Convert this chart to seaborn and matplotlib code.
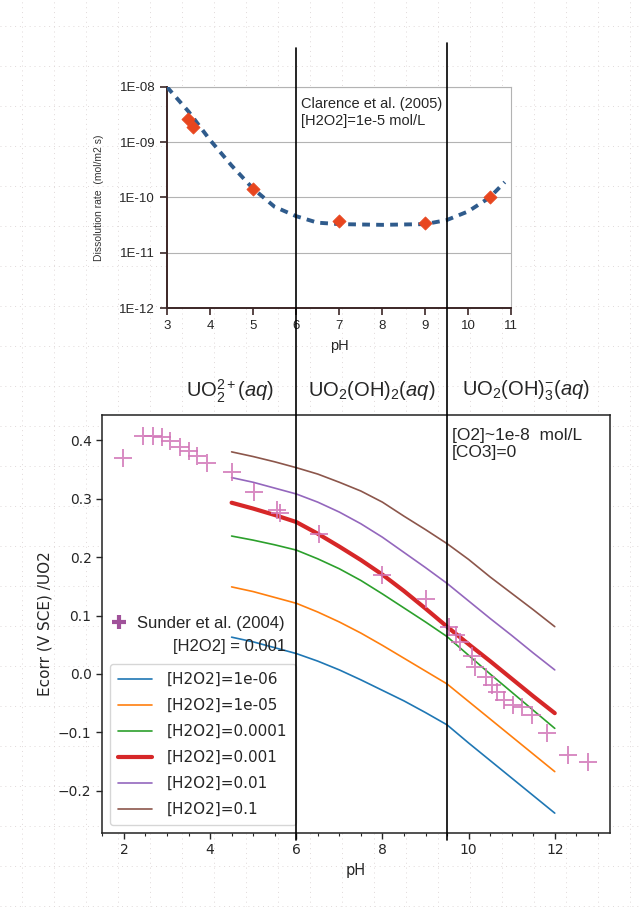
import numpy as np
import matplotlib
matplotlib.use('Agg')
import matplotlib.pyplot as plt
import matplotlib.transforms as mtransforms
from matplotlib.patches import Rectangle
from matplotlib.ticker import FixedLocator, FuncFormatter, MultipleLocator
import seaborn as sns
import pandas as pd

# --- top panel: Clarence et al. (2005) dissolution rate ---
fit_ph = [3.0, 3.5, 4.0, 4.5, 5.0, 5.5, 6.0, 6.5, 7.0, 8.0, 9.0, 9.5, 10.0, 10.5, 10.85]
fit_rate = [1.0e-8, 3.6e-9, 1.1e-9, 3.8e-10, 1.45e-10, 6.8e-11, 4.6e-11, 3.5e-11,
            3.3e-11, 3.2e-11, 3.3e-11, 3.9e-11, 5.6e-11, 1.0e-10, 1.9e-10]
clarence_ph = [3.5, 3.6, 5.0, 7.0, 9.0, 10.5]
clarence_rate = [2.6e-9, 1.9e-9, 1.4e-10, 3.7e-11, 3.4e-11, 1.0e-10]

# --- bottom panel: Ecorr model curves ---
model_ph = [4.5, 5.0, 5.5, 6.0, 6.5, 7.0, 7.5, 8.0, 8.5, 9.0, 9.5, 10.0, 10.5, 11.0, 11.5, 12.0]
e_1e6 = [0.063, 0.055, 0.045, 0.035, 0.022, 0.007, -0.010, -0.028, -0.046, -0.066,
         -0.087, -0.118, -0.148, -0.178, -0.208, -0.238]
e_1e5 = [0.149, 0.141, 0.131, 0.121, 0.106, 0.089, 0.070, 0.049, 0.027, 0.005,
         -0.017, -0.047, -0.077, -0.107, -0.137, -0.167]
e_1e4 = [0.236, 0.229, 0.221, 0.212, 0.197, 0.180, 0.160, 0.137, 0.113, 0.089,
         0.064, 0.032, 0.000, -0.031, -0.062, -0.093]
e_1e3 = [0.293, 0.283, 0.272, 0.260, 0.240, 0.218, 0.195, 0.170, 0.142, 0.112,
         0.081, 0.051, 0.022, -0.008, -0.038, -0.067]
e_1e2 = [0.336, 0.328, 0.318, 0.308, 0.294, 0.277, 0.257, 0.234, 0.208, 0.182,
         0.155, 0.125, 0.095, 0.066, 0.036, 0.007]
e_1e1 = [0.380, 0.372, 0.363, 0.353, 0.342, 0.328, 0.313, 0.294, 0.270, 0.247,
         0.223, 0.196, 0.166, 0.138, 0.110, 0.081]
curve_labels = ['[H2O2]=1e-06', '[H2O2]=1e-05', '[H2O2]=0.0001',
                '[H2O2]=0.001', '[H2O2]=0.01', '[H2O2]=0.1']

# Sunder et al. (2004) measurements
sunder_ph = [1.97, 2.45, 2.67, 2.88, 3.07, 3.30, 3.50, 3.69, 3.92, 4.50, 5.02, 5.55,
             5.63, 6.52, 7.99, 9.00, 9.54, 9.70, 9.81, 10.09, 10.16, 10.40, 10.55,
             10.67, 10.82, 11.02, 11.25, 11.48, 11.83, 12.30, 12.76]
sunder_e = [0.370, 0.407, 0.407, 0.406, 0.399, 0.389, 0.382, 0.373, 0.361, 0.346,
            0.311, 0.280, 0.275, 0.240, 0.169, 0.129, 0.081, 0.067, 0.055, 0.030,
            0.012, -0.005, -0.019, -0.030, -0.044, -0.053, -0.056, -0.070, -0.101,
            -0.138, -0.150]

boundaries = [6.0, 9.5]
species = ['UO$_2^{2+}$($\\it{aq}$)', 'UO$_2$(OH)$_2$($\\it{aq}$)', 'UO$_2$(OH)$_3^{-}$($\\it{aq}$)']
species_ph = [4.47, 7.74, 11.33]

sns.set_style('ticks')
plt.rcParams['font.family'] = ['DejaVu Sans']
plt.rcParams['mathtext.fontset'] = 'custom'
plt.rcParams['mathtext.rm'] = 'Liberation Sans'
plt.rcParams['mathtext.it'] = 'Liberation Sans:italic'

fig = plt.figure(figsize=(6.41, 9.07), dpi=100)

# page background with faint dotted grid
bg = fig.add_axes([0, 0, 1, 1], zorder=-10)
bg.set_xlim(0, 641)
bg.set_ylim(907, 0)
bg.axis('off')
for gx in np.arange(22, 641, 32):
    bg.axvline(gx, color='#e0d9d9', lw=0.7, ls=(0, (1, 4)))
for gy in np.arange(26, 907, 40):
    bg.axhline(gy, color='#e0d9d9', lw=0.7, ls=(0, (1, 4)))
bg.add_patch(Rectangle((85, 60), 435, 295, color='white'))
bg.add_patch(Rectangle((25, 360), 616, 525, color='white'))

# ---------- top panel ----------
ax1 = fig.add_axes([0.2605, 0.6604, 0.537, 0.2437])
sns.lineplot(x=fit_ph, y=fit_rate, ax=ax1, color='#2f5b8c', lw=2.8,
             linestyle=(0, (2, 1.6)), zorder=3)
sns.scatterplot(x=clarence_ph, y=clarence_rate, ax=ax1, marker='D', s=45,
                color='#e8461f', edgecolor='#e8461f', zorder=4)
ax1.set_yscale('log')
ax1.set_xlim(3, 11)
ax1.set_ylim(1e-12, 1e-8)
ax1.yaxis.set_major_locator(FixedLocator([1e-12, 1e-11, 1e-10, 1e-9, 1e-8]))
ax1.yaxis.set_minor_locator(FixedLocator([]))
ax1.yaxis.set_major_formatter(FuncFormatter(lambda v, p: f"1E{int(round(np.log10(v))):03d}"))
ax1.xaxis.set_major_locator(MultipleLocator(1))
ax1.grid(axis='y', color='#b3b3b3', lw=0.8)
for s in ['left', 'bottom']:
    ax1.spines[s].set_color('#3b2626')
    ax1.spines[s].set_linewidth(1.4)
for s in ['top', 'right']:
    ax1.spines[s].set_color('#b3b3b3')
    ax1.spines[s].set_linewidth(0.8)
ax1.tick_params(direction='out', length=5, width=1.2, color='#3b2626', labelsize=9.5)
for lab in ax1.get_xticklabels() + ax1.get_yticklabels():
    lab.set_family('Liberation Sans')
ax1.set_xlabel('pH', family='Liberation Sans', fontsize=10.5, labelpad=5)
ax1.set_ylabel('Dissolution rate  (mol/m2 s)', family='Liberation Sans',
               fontsize=7.5, color='#333333', labelpad=11)
ax1.text(0.39, 0.955, 'Clarence et al. (2005)\n[H2O2]=1e-5 mol/L', transform=ax1.transAxes,
         va='top', ha='left', family='Liberation Sans', fontsize=10.5, linespacing=1.25)

# ---------- bottom panel ----------
ax2 = fig.add_axes([0.159, 0.0816, 0.7925, 0.4608])
series = [e_1e6, e_1e5, e_1e4, e_1e3, e_1e2, e_1e1]
colors = sns.color_palette('tab10', 6)
for vals, lab, col in zip(series, curve_labels, colors):
    lw = 3.0 if lab == '[H2O2]=0.001' else 1.2
    sns.lineplot(x=model_ph, y=vals, ax=ax2, color=col, lw=lw, label=lab, zorder=3)
sns.scatterplot(x=sunder_ph, y=sunder_e, ax=ax2, marker='+', s=160, color='#d277b8',
                linewidth=1.4, alpha=0.85, zorder=4)
ax2.set_xlim(1.49, 13.28)
ax2.set_ylim(-0.272, 0.443)
ax2.xaxis.set_major_locator(MultipleLocator(2))
ax2.xaxis.set_minor_locator(MultipleLocator(0.5))
ax2.yaxis.set_major_locator(MultipleLocator(0.1))
ax2.yaxis.set_major_formatter(FuncFormatter(lambda v, p: f"{v:.1f}".replace('-', '\u2212')))
for s in ax2.spines.values():
    s.set_color('#222222')
    s.set_linewidth(1.1)
ax2.tick_params(which='major', direction='out', length=4, width=1, labelsize=10)
ax2.tick_params(which='minor', direction='out', length=2.5, width=0.8)
ax2.set_xlabel('pH', fontsize=10.5)
ax2.set_ylabel('Ecorr (V SCE) /UO2', fontsize=11)

leg = ax2.legend(loc='lower left', fontsize=11, labelspacing=0.72, handlelength=2.2,
                 handletextpad=1.0, borderpad=0.55)
ax2.add_artist(leg)
h_sunder, = ax2.plot([], [], marker='+', ls='none', ms=10, mew=3, color='#a0529a')
ax2.legend([h_sunder], ['Sunder et al. (2004)'], loc='upper left',
           bbox_to_anchor=(-0.01, 0.556), frameon=False,
           handlelength=0.9, handletextpad=0.6, prop={'family': 'Liberation Sans', 'size': 12})
ax2.text(0.14, 0.464, '[H2O2] = 0.001', transform=ax2.transAxes, fontsize=12,
         family='Liberation Sans', va='top')
ax2.text(0.689, 0.969, '[O2]~1e-8  mol/L\n[CO3]=0', transform=ax2.transAxes,
         va='top', ha='left', family='Liberation Sans', fontsize=12.5, linespacing=1.15)

# predominance boundaries crossing both panels
trans = mtransforms.blended_transform_factory(ax2.transData, fig.transFigure)
for b, top in zip(boundaries, [0.947, 0.9526]):
    ax2.plot([b, b], [0.074, top], transform=trans, color='black', lw=1.2,
             clip_on=False, zorder=6)

for name, xp in zip(species, species_ph):
    ax2.text(xp, 0.569, name, transform=trans, ha='center', va='center',
             family='Liberation Sans', fontsize=14.5, clip_on=False)

fig.savefig('out.png', dpi=100)
